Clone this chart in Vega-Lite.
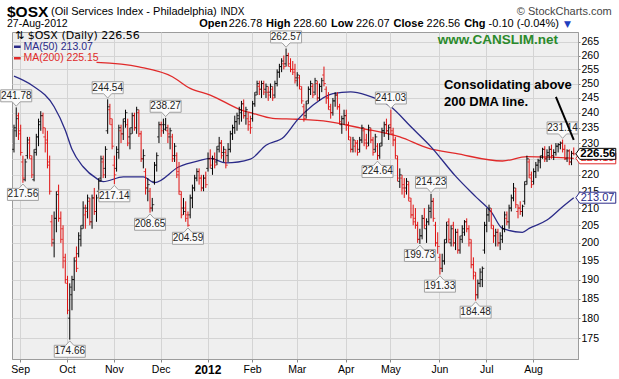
{
"$schema": "https://vega.github.io/schema/vega-lite/v6.json",
"width": 566, "height": 327,
"autosize": {"type": "none"},
"padding": {"left": 12, "top": 32, "right": 41, "bottom": 20},
"background": "#ffffff",
"config": {"view": {"fill": "#efefef", "stroke": "#9c9c9c", "strokeWidth": 1}, "font": "Liberation Sans", "text": {"font": "Liberation Sans", "baseline": "middle"}},
"datasets": {
"px": [
{"d":"2011-08-29","o":228,"h":236,"l":227,"c":235},
{"d":"2011-08-30","o":234,"h":241.78,"l":232,"c":238},
{"d":"2011-08-31","o":239,"h":240,"l":231,"c":233},
{"d":"2011-09-01","o":234,"h":236,"l":226,"c":227},
{"d":"2011-09-02","o":224,"h":226,"l":217.56,"c":219},
{"d":"2011-09-06","o":218.5,"h":225,"l":218,"c":224},
{"d":"2011-09-07","o":226,"h":232,"l":225,"c":231},
{"d":"2011-09-08","o":230,"h":232,"l":225,"c":226},
{"d":"2011-09-09","o":225,"h":226,"l":219,"c":220},
{"d":"2011-09-12","o":218.5,"h":228,"l":218,"c":227},
{"d":"2011-09-13","o":228,"h":233,"l":226,"c":232},
{"d":"2011-09-14","o":232,"h":238,"l":229,"c":236},
{"d":"2011-09-15","o":237,"h":240.5,"l":234,"c":239},
{"d":"2011-09-16","o":239,"h":240,"l":233,"c":235},
{"d":"2011-09-19","o":232,"h":235,"l":227,"c":230},
{"d":"2011-09-20","o":231,"h":234,"l":222,"c":223},
{"d":"2011-09-21","o":224,"h":226,"l":214,"c":215},
{"d":"2011-09-22","o":206,"h":208,"l":199,"c":201},
{"d":"2011-09-23","o":200,"h":209,"l":196,"c":207},
{"d":"2011-09-26","o":207,"h":215,"l":203,"c":214},
{"d":"2011-09-27","o":215,"h":217,"l":206,"c":207},
{"d":"2011-09-28","o":207,"h":209,"l":200,"c":201},
{"d":"2011-09-29","o":204,"h":205,"l":193,"c":196},
{"d":"2011-09-30","o":195,"h":197,"l":189,"c":190},
{"d":"2011-10-03","o":189,"h":191,"l":181,"c":182},
{"d":"2011-10-04","o":180,"h":189,"l":174.66,"c":188},
{"d":"2011-10-05","o":186,"h":191,"l":182,"c":190},
{"d":"2011-10-06","o":190,"h":196,"l":187,"c":195},
{"d":"2011-10-07","o":196,"h":199,"l":192,"c":193},
{"d":"2011-10-10","o":197,"h":203,"l":196,"c":202},
{"d":"2011-10-11","o":201,"h":205,"l":199,"c":204},
{"d":"2011-10-12","o":205,"h":212,"l":204,"c":210},
{"d":"2011-10-13","o":208,"h":211,"l":204,"c":209},
{"d":"2011-10-14","o":210,"h":214,"l":207,"c":213},
{"d":"2011-10-17","o":212,"h":213,"l":205,"c":206},
{"d":"2011-10-18","o":206,"h":214,"l":204,"c":213},
{"d":"2011-10-19","o":213,"h":216,"l":208,"c":209},
{"d":"2011-10-20","o":209,"h":214,"l":206,"c":213},
{"d":"2011-10-21","o":215,"h":219,"l":213,"c":218},
{"d":"2011-10-24","o":219,"h":226,"l":218,"c":225},
{"d":"2011-10-25","o":224,"h":226,"l":219,"c":220},
{"d":"2011-10-26","o":222,"h":229,"l":219,"c":228},
{"d":"2011-10-27","o":234,"h":244.54,"l":233,"c":242},
{"d":"2011-10-28","o":241,"h":243,"l":236,"c":238},
{"d":"2011-10-31","o":236,"h":238,"l":228,"c":229},
{"d":"2011-11-01","o":223,"h":226,"l":217.14,"c":220},
{"d":"2011-11-02","o":222,"h":229,"l":221,"c":227},
{"d":"2011-11-03","o":228,"h":236,"l":225,"c":235},
{"d":"2011-11-04","o":234,"h":236,"l":230,"c":233},
{"d":"2011-11-07","o":233,"h":238,"l":231,"c":237},
{"d":"2011-11-08","o":238,"h":241,"l":235,"c":240},
{"d":"2011-11-09","o":236,"h":238,"l":229,"c":230},
{"d":"2011-11-10","o":232,"h":235,"l":228,"c":233},
{"d":"2011-11-11","o":235,"h":240,"l":233,"c":239},
{"d":"2011-11-14","o":239,"h":240,"l":234,"c":235},
{"d":"2011-11-15","o":235,"h":242,"l":233,"c":241},
{"d":"2011-11-16","o":240,"h":241,"l":232,"c":233},
{"d":"2011-11-17","o":233,"h":234,"l":224,"c":225},
{"d":"2011-11-18","o":225,"h":228,"l":222,"c":226},
{"d":"2011-11-21","o":221,"h":222,"l":214,"c":216},
{"d":"2011-11-22","o":216,"h":219,"l":212,"c":217},
{"d":"2011-11-23","o":215,"h":216,"l":208.65,"c":210},
{"d":"2011-11-25","o":210,"h":213,"l":209,"c":211},
{"d":"2011-11-28","o":218,"h":224,"l":217,"c":223},
{"d":"2011-11-29","o":223,"h":227,"l":221,"c":226},
{"d":"2011-11-30","o":232,"h":237,"l":230,"c":236},
{"d":"2011-12-01","o":236,"h":237,"l":232,"c":234},
{"d":"2011-12-02","o":236,"h":238,"l":233,"c":234.5},
{"d":"2011-12-05","o":236,"h":238.27,"l":234,"c":235},
{"d":"2011-12-06","o":234,"h":236,"l":230,"c":233},
{"d":"2011-12-07","o":232,"h":235,"l":228,"c":234},
{"d":"2011-12-08","o":232,"h":233,"l":224,"c":225},
{"d":"2011-12-09","o":226,"h":230,"l":224,"c":229},
{"d":"2011-12-12","o":226,"h":227,"l":219,"c":220},
{"d":"2011-12-13","o":221,"h":224,"l":214,"c":215},
{"d":"2011-12-14","o":214,"h":215,"l":207,"c":208},
{"d":"2011-12-15","o":210,"h":213,"l":208,"c":209},
{"d":"2011-12-16","o":210,"h":212,"l":206,"c":207},
{"d":"2011-12-19","o":208,"h":209,"l":204.59,"c":205},
{"d":"2011-12-20","o":208,"h":214,"l":207,"c":213},
{"d":"2011-12-21","o":213,"h":217,"l":210,"c":216},
{"d":"2011-12-22","o":216,"h":220,"l":215,"c":219},
{"d":"2011-12-23","o":219,"h":222,"l":218,"c":221},
{"d":"2011-12-27","o":221,"h":222,"l":217,"c":219},
{"d":"2011-12-28","o":219,"h":220,"l":215,"c":216},
{"d":"2011-12-29","o":216,"h":220,"l":215,"c":219},
{"d":"2011-12-30","o":219,"h":221,"l":216,"c":217},
{"d":"2012-01-03","o":222,"h":227,"l":221,"c":225},
{"d":"2012-01-04","o":225,"h":228,"l":222,"c":223},
{"d":"2012-01-05","o":222,"h":226,"l":220,"c":225},
{"d":"2012-01-06","o":225,"h":227,"l":222,"c":223},
{"d":"2012-01-09","o":224,"h":229,"l":223,"c":228},
{"d":"2012-01-10","o":229,"h":232,"l":227,"c":230},
{"d":"2012-01-11","o":230,"h":231,"l":225,"c":226},
{"d":"2012-01-12","o":227,"h":229,"l":224,"c":228},
{"d":"2012-01-13","o":227,"h":228,"l":222,"c":223},
{"d":"2012-01-17","o":226,"h":230,"l":224,"c":228},
{"d":"2012-01-18","o":228,"h":234,"l":227,"c":233},
{"d":"2012-01-19","o":233,"h":236,"l":231,"c":235},
{"d":"2012-01-20","o":235,"h":239,"l":233,"c":237},
{"d":"2012-01-23","o":237,"h":240,"l":234,"c":239},
{"d":"2012-01-24","o":238,"h":242,"l":236,"c":241},
{"d":"2012-01-25","o":240,"h":244,"l":237,"c":243},
{"d":"2012-01-26","o":243,"h":244.5,"l":238,"c":239},
{"d":"2012-01-27","o":239,"h":242,"l":236,"c":241},
{"d":"2012-01-30","o":238,"h":240,"l":234,"c":236},
{"d":"2012-01-31","o":237,"h":239,"l":233,"c":235},
{"d":"2012-02-01","o":238,"h":244,"l":237,"c":243},
{"d":"2012-02-02","o":243,"h":247,"l":242,"c":246},
{"d":"2012-02-03","o":247,"h":251,"l":246,"c":250},
{"d":"2012-02-06","o":249,"h":251,"l":246,"c":248},
{"d":"2012-02-07","o":248,"h":251,"l":245,"c":250},
{"d":"2012-02-08","o":250,"h":251,"l":246,"c":247},
{"d":"2012-02-09","o":248,"h":250,"l":245,"c":249},
{"d":"2012-02-10","o":247,"h":249,"l":244,"c":246},
{"d":"2012-02-13","o":247,"h":250,"l":245,"c":249},
{"d":"2012-02-14","o":248,"h":249,"l":244,"c":245},
{"d":"2012-02-15","o":246,"h":251,"l":245,"c":250},
{"d":"2012-02-16","o":250,"h":255,"l":249,"c":254},
{"d":"2012-02-17","o":254,"h":257,"l":252,"c":256},
{"d":"2012-02-21","o":256,"h":259,"l":254,"c":258},
{"d":"2012-02-22","o":257,"h":260,"l":255,"c":256},
{"d":"2012-02-23","o":257,"h":262.57,"l":256,"c":260},
{"d":"2012-02-24","o":260,"h":261,"l":256,"c":257},
{"d":"2012-02-27","o":256,"h":259,"l":254,"c":255},
{"d":"2012-02-28","o":255,"h":258,"l":253,"c":254},
{"d":"2012-02-29","o":255,"h":257,"l":250,"c":251},
{"d":"2012-03-01","o":252,"h":254,"l":249,"c":253},
{"d":"2012-03-02","o":252,"h":253,"l":248,"c":249},
{"d":"2012-03-05","o":248,"h":249,"l":243,"c":244},
{"d":"2012-03-06","o":242,"h":243,"l":237,"c":238},
{"d":"2012-03-07","o":239,"h":244,"l":238,"c":243},
{"d":"2012-03-08","o":244,"h":249,"l":243,"c":248},
{"d":"2012-03-09","o":248,"h":251,"l":246,"c":250},
{"d":"2012-03-12","o":249,"h":250,"l":245,"c":246},
{"d":"2012-03-13","o":247,"h":252,"l":246,"c":251},
{"d":"2012-03-14","o":250,"h":251,"l":244,"c":245},
{"d":"2012-03-15","o":245,"h":250,"l":244,"c":249},
{"d":"2012-03-16","o":249,"h":252,"l":247,"c":251},
{"d":"2012-03-19","o":253,"h":256,"l":249,"c":250},
{"d":"2012-03-20","o":248,"h":249,"l":243,"c":245},
{"d":"2012-03-21","o":245,"h":247,"l":241,"c":242},
{"d":"2012-03-22","o":241,"h":243,"l":238,"c":240},
{"d":"2012-03-23","o":240,"h":245,"l":239,"c":244},
{"d":"2012-03-26","o":244,"h":247,"l":242,"c":246},
{"d":"2012-03-27","o":246,"h":247,"l":241,"c":242},
{"d":"2012-03-28","o":242,"h":243,"l":236,"c":237},
{"d":"2012-03-29","o":236,"h":239,"l":233,"c":238},
{"d":"2012-03-30","o":238,"h":241,"l":236,"c":239},
{"d":"2012-04-02","o":239,"h":241,"l":234,"c":236},
{"d":"2012-04-03","o":236,"h":237,"l":231,"c":232},
{"d":"2012-04-04","o":231,"h":232,"l":227,"c":228},
{"d":"2012-04-05","o":228,"h":232,"l":227,"c":231},
{"d":"2012-04-09","o":229,"h":231,"l":227,"c":230},
{"d":"2012-04-10","o":230,"h":231,"l":226,"c":227},
{"d":"2012-04-11","o":228,"h":232,"l":227,"c":231},
{"d":"2012-04-12","o":231,"h":236,"l":230,"c":235},
{"d":"2012-04-13","o":234,"h":235,"l":229,"c":230},
{"d":"2012-04-16","o":231,"h":233,"l":228,"c":229},
{"d":"2012-04-17","o":230,"h":236,"l":229,"c":235},
{"d":"2012-04-18","o":234,"h":235,"l":230,"c":231},
{"d":"2012-04-19","o":231,"h":232,"l":226,"c":227},
{"d":"2012-04-20","o":228,"h":233,"l":227,"c":232},
{"d":"2012-04-23","o":229,"h":230,"l":224.64,"c":226},
{"d":"2012-04-24","o":226,"h":230,"l":225,"c":229},
{"d":"2012-04-25","o":230,"h":235,"l":229,"c":234},
{"d":"2012-04-26","o":234,"h":237,"l":232,"c":236},
{"d":"2012-04-27","o":236,"h":238,"l":233,"c":234},
{"d":"2012-04-30","o":234,"h":236,"l":231,"c":235},
{"d":"2012-05-01","o":236,"h":241.03,"l":233,"c":234},
{"d":"2012-05-02","o":233,"h":235,"l":229,"c":231},
{"d":"2012-05-03","o":231,"h":232,"l":225,"c":226},
{"d":"2012-05-04","o":225,"h":226,"l":218,"c":219},
{"d":"2012-05-07","o":218,"h":222,"l":216,"c":220},
{"d":"2012-05-08","o":219,"h":220,"l":214,"c":217},
{"d":"2012-05-09","o":216,"h":219,"l":213,"c":215},
{"d":"2012-05-10","o":216,"h":219,"l":214,"c":218},
{"d":"2012-05-11","o":217,"h":218,"l":212,"c":213},
{"d":"2012-05-14","o":212,"h":213,"l":207,"c":208},
{"d":"2012-05-15","o":208,"h":211,"l":205,"c":206},
{"d":"2012-05-16","o":207,"h":210,"l":204,"c":205},
{"d":"2012-05-17","o":205,"h":206,"l":200,"c":201},
{"d":"2012-05-18","o":201,"h":204,"l":199.73,"c":202},
{"d":"2012-05-21","o":202,"h":208,"l":201,"c":207},
{"d":"2012-05-22","o":207,"h":210,"l":204,"c":205},
{"d":"2012-05-23","o":204,"h":207,"l":200,"c":206},
{"d":"2012-05-24","o":206,"h":211,"l":205,"c":210},
{"d":"2012-05-25","o":209,"h":214.23,"l":207,"c":212},
{"d":"2012-05-29","o":212,"h":213,"l":206,"c":207},
{"d":"2012-05-30","o":205,"h":206,"l":199,"c":200},
{"d":"2012-05-31","o":200,"h":203,"l":197,"c":199},
{"d":"2012-06-01","o":196,"h":197,"l":191.33,"c":193},
{"d":"2012-06-04","o":193,"h":197,"l":192,"c":195},
{"d":"2012-06-05","o":195,"h":201,"l":194,"c":200},
{"d":"2012-06-06","o":201,"h":206,"l":200,"c":205},
{"d":"2012-06-07","o":206,"h":207,"l":200,"c":201},
{"d":"2012-06-08","o":200,"h":205,"l":199,"c":204},
{"d":"2012-06-11","o":205,"h":206,"l":199,"c":200},
{"d":"2012-06-12","o":200,"h":204,"l":198,"c":203},
{"d":"2012-06-13","o":203,"h":204,"l":197,"c":198},
{"d":"2012-06-14","o":198,"h":202,"l":197,"c":201},
{"d":"2012-06-15","o":202,"h":205,"l":200,"c":204},
{"d":"2012-06-18","o":203,"h":206.5,"l":202,"c":206},
{"d":"2012-06-19","o":206,"h":207,"l":203,"c":204},
{"d":"2012-06-20","o":204,"h":205,"l":199,"c":201},
{"d":"2012-06-21","o":200,"h":201,"l":193,"c":194},
{"d":"2012-06-22","o":194,"h":196,"l":190,"c":192},
{"d":"2012-06-25","o":191,"h":192,"l":184.48,"c":186},
{"d":"2012-06-26","o":186,"h":190,"l":185,"c":189},
{"d":"2012-06-27","o":189,"h":193,"l":188,"c":192},
{"d":"2012-06-28","o":190,"h":193.5,"l":188,"c":193},
{"d":"2012-06-29","o":198,"h":206,"l":197,"c":205},
{"d":"2012-07-02","o":205,"h":210,"l":203,"c":208},
{"d":"2012-07-03","o":208,"h":211,"l":206,"c":210},
{"d":"2012-07-05","o":209,"h":210,"l":204,"c":205},
{"d":"2012-07-06","o":204,"h":205,"l":200,"c":202},
{"d":"2012-07-09","o":202,"h":204,"l":199,"c":203},
{"d":"2012-07-10","o":203,"h":204,"l":199,"c":200},
{"d":"2012-07-11","o":200,"h":203,"l":198,"c":202},
{"d":"2012-07-12","o":201,"h":205,"l":200,"c":204},
{"d":"2012-07-13","o":204,"h":209,"l":203,"c":208},
{"d":"2012-07-16","o":207,"h":209,"l":205,"c":206},
{"d":"2012-07-17","o":206,"h":211,"l":204,"c":210},
{"d":"2012-07-18","o":210,"h":214,"l":209,"c":213},
{"d":"2012-07-19","o":213,"h":217.5,"l":212,"c":216},
{"d":"2012-07-20","o":215,"h":216,"l":210,"c":211},
{"d":"2012-07-23","o":209,"h":211,"l":207,"c":210},
{"d":"2012-07-24","o":210,"h":212,"l":208,"c":209},
{"d":"2012-07-25","o":209,"h":211,"l":207.5,"c":210.5},
{"d":"2012-07-26","o":212,"h":218,"l":211,"c":217},
{"d":"2012-07-27","o":218,"h":226,"l":217,"c":225},
{"d":"2012-07-30","o":224,"h":225,"l":219,"c":220},
{"d":"2012-07-31","o":219,"h":221,"l":216,"c":217},
{"d":"2012-08-01","o":218,"h":222,"l":217,"c":221},
{"d":"2012-08-02","o":221,"h":224,"l":219,"c":223},
{"d":"2012-08-03","o":223,"h":225,"l":221,"c":224.5},
{"d":"2012-08-06","o":224,"h":226,"l":222,"c":225.5},
{"d":"2012-08-07","o":226,"h":228.5,"l":225,"c":228},
{"d":"2012-08-08","o":228,"h":229,"l":224,"c":225},
{"d":"2012-08-09","o":225,"h":228,"l":224,"c":227},
{"d":"2012-08-10","o":226,"h":229,"l":224.6,"c":228},
{"d":"2012-08-13","o":228,"h":229.5,"l":225,"c":226},
{"d":"2012-08-14","o":226,"h":228,"l":224.6,"c":227},
{"d":"2012-08-15","o":227,"h":230,"l":226,"c":229},
{"d":"2012-08-16","o":229,"h":230,"l":227,"c":229.5},
{"d":"2012-08-17","o":229.5,"h":230.5,"l":228,"c":230},
{"d":"2012-08-20","o":230,"h":231.14,"l":227,"c":228},
{"d":"2012-08-21","o":228,"h":229.5,"l":224.6,"c":225},
{"d":"2012-08-22","o":225,"h":228,"l":224,"c":227.5},
{"d":"2012-08-23","o":227.5,"h":228,"l":223,"c":224},
{"d":"2012-08-24","o":224,"h":227.5,"l":223,"c":226.66},
{"d":"2012-08-27","o":226.78,"h":228.6,"l":226.07,"c":226.56}
],
"ma50": [
{"d":"2011-08-29","v":252.6},{"d":"2011-09-09","v":249.4},{"d":"2011-09-23","v":242.0},{"d":"2011-09-30","v":234.2},
{"d":"2011-10-05","v":228.0},{"d":"2011-10-12","v":222.5},{"d":"2011-10-20","v":218.9},{"d":"2011-10-25","v":217.9},
{"d":"2011-11-07","v":219.4},{"d":"2011-11-18","v":219.4},{"d":"2011-11-28","v":217.6},{"d":"2011-12-13","v":222.5},
{"d":"2011-12-27","v":224.4},{"d":"2012-01-04","v":225.1},{"d":"2012-01-13","v":223.7},{"d":"2012-01-31","v":224.9},
{"d":"2012-02-09","v":229.3},{"d":"2012-02-22","v":232.0},{"d":"2012-03-01","v":237.5},{"d":"2012-03-12","v":242.5},
{"d":"2012-03-23","v":246.5},{"d":"2012-04-04","v":247.1},{"d":"2012-04-16","v":246.0},{"d":"2012-05-01","v":242.0},
{"d":"2012-05-14","v":235.3},{"d":"2012-05-25","v":228.8},{"d":"2012-06-12","v":219.6},{"d":"2012-06-25","v":213.4},
{"d":"2012-07-05","v":208.9},{"d":"2012-07-12","v":204.1},{"d":"2012-07-25","v":203.0},{"d":"2012-07-30","v":204.1},
{"d":"2012-08-09","v":206.5},{"d":"2012-08-20","v":210.4},{"d":"2012-08-27","v":213.07}
],
"ma200": [
{"d":"2011-10-20","v":257.5},{"d":"2011-11-16","v":255.9},{"d":"2011-12-08","v":252.4},{"d":"2011-12-20","v":248.3},
{"d":"2012-01-04","v":246.0},{"d":"2012-01-25","v":240.9},{"d":"2012-02-01","v":239.8},{"d":"2012-02-14","v":238.1},
{"d":"2012-03-01","v":237.8},{"d":"2012-03-21","v":237.0},{"d":"2012-04-12","v":234.8},{"d":"2012-05-07","v":232.0},
{"d":"2012-05-24","v":228.3},{"d":"2012-06-12","v":226.7},{"d":"2012-07-12","v":224.3},{"d":"2012-07-27","v":225.7},
{"d":"2012-08-13","v":225.5},{"d":"2012-08-27","v":225.15}
],
"lbl": [
{"d":"2011-08-30","v":241.78,"t":"241.78","k":"hi"},
{"d":"2011-10-27","v":244.54,"t":"244.54","k":"hi"},
{"d":"2011-12-05","v":238.27,"t":"238.27","k":"hi"},
{"d":"2012-02-23","v":262.57,"t":"262.57","k":"hi"},
{"d":"2012-05-01","v":241.03,"t":"241.03","k":"hi"},
{"d":"2012-05-25","v":214.23,"t":"214.23","k":"hi"},
{"d":"2012-08-20","v":231.14,"t":"231.14","k":"hi"},
{"d":"2011-09-02","v":217.56,"t":"217.56","k":"lo"},
{"d":"2011-10-04","v":174.66,"t":"174.66","k":"lo"},
{"d":"2011-11-01","v":217.14,"t":"217.14","k":"lo"},
{"d":"2011-11-23","v":208.65,"t":"208.65","k":"lo"},
{"d":"2011-12-19","v":204.59,"t":"204.59","k":"lo"},
{"d":"2012-04-23","v":224.64,"t":"224.64","k":"lo"},
{"d":"2012-05-18","v":199.73,"t":"199.73","k":"lo"},
{"d":"2012-06-01","v":191.33,"t":"191.33","k":"lo"},
{"d":"2012-06-25","v":184.48,"t":"184.48","k":"lo"}
]
},
"layer": [
{"data": {"name": "ma200"},
 "mark": {"type": "line", "color": "#e02a2a", "strokeWidth": 1.3, "interpolate": "monotone"},
 "encoding": {
  "x": {"field": "d", "type": "ordinal", "title": null,
   "scale": {"type": "band", "paddingInner": 0, "paddingOuter": 0.9, "align": 0.22},
   "axis": {"title": null, "orient": "bottom", "bandPosition": 0.5, "labelAngle": 0,
    "values": ["2011-09-01","2011-10-03","2011-11-01","2011-12-01","2012-01-03","2012-02-01","2012-03-01","2012-04-02","2012-05-01","2012-06-01","2012-07-02","2012-08-01"],
    "labelExpr": "datum.value == '2012-01-03' ? '2012' : timeFormat(toDate(datum.value + 'T12:00:00'), '%b')",
    "labelFontWeight": {"condition": {"test": "datum.value == '2012-01-03'", "value": "bold"}, "value": "normal"},
    "labelFontSize": {"condition": {"test": "datum.value == '2012-01-03'", "value": 12}, "value": 10.5},
    "labelColor": "#000000", "labelFont": "Liberation Sans", "labelPadding": 2, "labelBaseline": "top",
    "tickSize": 3, "tickColor": "#888888", "domainColor": "#9c9c9c",
    "grid": true, "gridColor": "#d4d4d4", "gridWidth": 1}},
  "y": {"field": "v", "type": "quantitative", "title": null,
   "scale": {"type": "log", "domain": [170, 268.7], "nice": false, "zero": false},
   "axis": {"title": null, "orient": "right", "values": [175,180,185,190,195,200,205,210,215,220,225,230,235,240,245,250,255,260,265],
    "format": "d", "labelExpr": "datum.value == 225 ? '' : datum.label",
    "labelColor": "#000000", "labelFont": "Liberation Sans", "labelFontSize": 10.5, "labelPadding": 1,
    "tickSize": 2, "tickColor": "#888888", "domainColor": "#9c9c9c",
    "grid": true, "gridColor": "#d4d4d4", "gridWidth": 1}}
 }},
{"data": {"name": "ma50"},
 "mark": {"type": "line", "color": "#2a2a88", "strokeWidth": 1.3, "interpolate": "monotone"},
 "encoding": {"x": {"field": "d", "type": "ordinal", "title": null}, "y": {"field": "v", "type": "quantitative", "title": null}}},
{"data": {"name": "px"},
 "transform": [{"window": [{"op": "lag", "field": "c", "as": "pc"}], "sort": [{"field": "d", "order": "ascending"}]}],
 "encoding": {
  "x": {"field": "d", "type": "ordinal", "title": null},
  "color": {"condition": {"test": "datum.pc != null && datum.c < datum.pc", "value": "#e01010"}, "value": "#000000"}
 },
 "layer": [
  {"mark": {"type": "rule", "strokeWidth": 1}, "encoding": {"y": {"field": "l", "type": "quantitative", "title": null}, "y2": {"field": "h"}}},
  {"mark": {"type": "tick", "orient": "horizontal", "size": 2, "thickness": 1, "xOffset": -1}, "encoding": {"y": {"field": "o", "type": "quantitative", "title": null}}},
  {"mark": {"type": "tick", "orient": "horizontal", "size": 2, "thickness": 1, "xOffset": 1}, "encoding": {"y": {"field": "c", "type": "quantitative", "title": null}}}
 ]},
{"data": {"name": "lbl"},
 "encoding": {"x": {"field": "d", "type": "ordinal", "title": null}, "y": {"field": "v", "type": "quantitative", "title": null}},
 "layer": [
  {"transform": [{"filter": "datum.k == 'hi'"}], "mark": {"type": "point", "shape": "M-0.775,-0.88H0.775V-0.28H0.2L0,-0.06L-0.2,-0.28H-0.775Z", "size": 1600, "filled": true, "fill": "#fafafa", "stroke": "#a0a0a0", "strokeWidth": 1, "opacity": 1}},
  {"transform": [{"filter": "datum.k == 'lo'"}], "mark": {"type": "point", "shape": "M-0.775,0.88H0.775V0.28H0.2L0,0.06L-0.2,0.28H-0.775Z", "size": 1600, "filled": true, "fill": "#fafafa", "stroke": "#a0a0a0", "strokeWidth": 1, "opacity": 1}},
  {"transform": [{"filter": "datum.k == 'hi'"}], "mark": {"type": "text", "dy": -11.5, "fontSize": 10, "color": "#222222", "align": "center", "baseline": "middle"}, "encoding": {"text": {"field": "t"}}},
  {"transform": [{"filter": "datum.k == 'lo'"}], "mark": {"type": "text", "dy": 11.5, "fontSize": 10, "color": "#222222", "align": "center", "baseline": "middle"}, "encoding": {"text": {"field": "t"}}}
 ]},
{"data": {"values": [{}]},
 "mark": {"type": "rule", "color": "#000000", "strokeWidth": 2},
 "encoding": {"x": {"datum": "2012-08-15", "type": "ordinal"}, "x2": {"datum": "2012-08-27"}, "y": {"datum": 245.4, "type": "quantitative"}, "y2": {"datum": 231.0}}},
{"data": {"values": [{}]},
 "mark": {"type": "point", "shape": "M0.105,0L0.3,-0.275H2.1V0.275H0.3Z", "size": 1600, "filled": true, "fill": "#ffffff", "stroke": "#e02a2a", "strokeWidth": 1, "opacity": 1},
 "encoding": {"x": {"datum": "2012-08-27", "type": "ordinal"}, "y": {"datum": 225.15, "type": "quantitative"}}},
{"data": {"values": [{}]},
 "mark": {"type": "text", "align": "left", "dx": 7, "fontSize": 11, "color": "#e02a2a"},
 "encoding": {"x": {"datum": "2012-08-27", "type": "ordinal"}, "y": {"datum": 225.15, "type": "quantitative"}, "text": {"value": "225.15"}}},
{"data": {"values": [{}]},
 "mark": {"type": "point", "shape": "M0.105,0L0.3,-0.275H2.1V0.275H0.3Z", "size": 1600, "filled": true, "fill": "#ffffff", "stroke": "#000000", "strokeWidth": 1, "opacity": 1},
 "encoding": {"x": {"datum": "2012-08-27", "type": "ordinal"}, "y": {"datum": 226.56, "type": "quantitative"}}},
{"data": {"values": [{}]},
 "mark": {"type": "text", "align": "left", "dx": 6.5, "fontSize": 11.5, "fontWeight": "bold", "color": "#000000"},
 "encoding": {"x": {"datum": "2012-08-27", "type": "ordinal"}, "y": {"datum": 226.56, "type": "quantitative"}, "text": {"value": "226.56"}}},
{"data": {"values": [{}]},
 "mark": {"type": "point", "shape": "M0.105,0L0.3,-0.275H2.1V0.275H0.3Z", "size": 1600, "filled": true, "fill": "#ffffff", "stroke": "#2a2a88", "strokeWidth": 1, "opacity": 1},
 "encoding": {"x": {"datum": "2012-08-27", "type": "ordinal"}, "y": {"datum": 213.07, "type": "quantitative"}}},
{"data": {"values": [{}]},
 "mark": {"type": "text", "align": "left", "dx": 7, "fontSize": 11, "color": "#2a2a88"},
 "encoding": {"x": {"datum": "2012-08-27", "type": "ordinal"}, "y": {"datum": 213.07, "type": "quantitative"}, "text": {"value": "213.07"}}},
{"data": {"values": [{}]},
 "mark": {"type": "text", "align": "center", "fontSize": 13.5, "fontWeight": "bold", "color": "#2b8a2b"},
 "encoding": {"x": {"datum": "2012-07-10", "type": "ordinal"}, "y": {"datum": 265.7, "type": "quantitative"}, "text": {"value": "www.CANSLIM.net"}}},
{"data": {"values": [{}]},
 "mark": {"type": "text", "align": "left", "dx": 1.8, "fontSize": 13, "fontWeight": "bold", "color": "#000000"},
 "encoding": {"x": {"datum": "2012-06-04", "type": "ordinal"}, "y": {"datum": 249.5, "type": "quantitative"}, "text": {"value": "Consolidating above"}}},
{"data": {"values": [{}]},
 "mark": {"type": "text", "align": "left", "dx": 1.8, "fontSize": 13, "fontWeight": "bold", "color": "#000000"},
 "encoding": {"x": {"datum": "2012-06-04", "type": "ordinal"}, "y": {"datum": 243.7, "type": "quantitative"}, "text": {"value": "200 DMA line."}}},
{"data": {"values": [{}]},
 "mark": {"type": "text", "align": "left", "dx": 1, "fontSize": 11, "font": "DejaVu Sans", "color": "#000000"},
 "encoding": {"x": {"datum": "2011-08-29", "type": "ordinal"}, "y": {"datum": 267.2, "type": "quantitative"}, "text": {"value": "⇅ $OSX (Daily) 226.56"}}},
{"data": {"values": [{}]},
 "mark": {"type": "rule", "color": "#2a2a88", "strokeWidth": 2.5},
 "encoding": {"x": {"datum": "2011-08-29", "type": "ordinal"}, "x2": {"datum": "2011-09-01"}, "y": {"datum": 263.2, "type": "quantitative"}}},
{"data": {"values": [{}]},
 "mark": {"type": "text", "align": "left", "dx": 0.5, "fontSize": 10.5, "color": "#2a2a88"},
 "encoding": {"x": {"datum": "2011-09-02", "type": "ordinal"}, "y": {"datum": 263.2, "type": "quantitative"}, "text": {"value": "MA(50) 213.07"}}},
{"data": {"values": [{}]},
 "mark": {"type": "rule", "color": "#e02a2a", "strokeWidth": 2.5},
 "encoding": {"x": {"datum": "2011-08-29", "type": "ordinal"}, "x2": {"datum": "2011-09-01"}, "y": {"datum": 259.0, "type": "quantitative"}}},
{"data": {"values": [{}]},
 "mark": {"type": "text", "align": "left", "dx": 0.5, "fontSize": 10.5, "color": "#e02a2a"},
 "encoding": {"x": {"datum": "2011-09-02", "type": "ordinal"}, "y": {"datum": 259.0, "type": "quantitative"}, "text": {"value": "MA(200) 225.15"}}},
{"data": {"values": [{}]},
 "mark": {"type": "text", "align": "left", "dx": -7, "fontSize": 15.5, "fontWeight": "bold", "color": "#000000"},
 "encoding": {"x": {"datum": "2011-08-29", "type": "ordinal"}, "y": {"datum": 276.5, "type": "quantitative"}, "text": {"value": "$OSX"}}},
{"data": {"values": [{}]},
 "mark": {"type": "text", "align": "left", "dx": 8, "fontSize": 11, "color": "#000000"},
 "encoding": {"x": {"datum": "2011-09-16", "type": "ordinal"}, "y": {"datum": 276.5, "type": "quantitative"}, "text": {"value": "(Oil Services Index - Philadelphia)"}}},
{"data": {"values": [{}]},
 "mark": {"type": "text", "align": "left", "dx": 3.5, "fontSize": 10, "color": "#000000"},
 "encoding": {"x": {"datum": "2012-01-09", "type": "ordinal"}, "y": {"datum": 276.5, "type": "quantitative"}, "text": {"value": "INDX"}}},
{"data": {"values": [{}]},
 "mark": {"type": "text", "align": "right", "dx": 38, "fontSize": 11, "color": "#444444"},
 "encoding": {"x": {"datum": "2012-08-27", "type": "ordinal"}, "y": {"datum": 276.5, "type": "quantitative"}, "text": {"value": "© StockCharts.com"}}},
{"data": {"values": [{}]},
 "mark": {"type": "text", "align": "left", "dx": -7, "fontSize": 10.5, "color": "#000000"},
 "encoding": {"x": {"datum": "2011-08-29", "type": "ordinal"}, "y": {"datum": 271.8, "type": "quantitative"}, "text": {"value": "27-Aug-2012"}}},
{"data": {"values": [{}]},
 "mark": {"type": "text", "align": "left", "dx": 0.2, "fontSize": 11, "fontWeight": "bold", "color": "#000000"},
 "encoding": {"x": {"datum": "2011-12-27", "type": "ordinal"}, "y": {"datum": 271.8, "type": "quantitative"}, "text": {"value": "Open"}}},
{"data": {"values": [{}]},
 "mark": {"type": "text", "align": "left", "dx": 0.6, "fontSize": 11, "color": "#000000"},
 "encoding": {"x": {"datum": "2012-01-17", "type": "ordinal"}, "y": {"datum": 271.8, "type": "quantitative"}, "text": {"value": "226.78"}}},
{"data": {"values": [{}]},
 "mark": {"type": "text", "align": "left", "dx": 0, "fontSize": 11, "fontWeight": "bold", "color": "#000000"},
 "encoding": {"x": {"datum": "2012-02-09", "type": "ordinal"}, "y": {"datum": 271.8, "type": "quantitative"}, "text": {"value": "High"}}},
{"data": {"values": [{}]},
 "mark": {"type": "text", "align": "left", "dx": 0.5, "fontSize": 11, "color": "#000000"},
 "encoding": {"x": {"datum": "2012-02-28", "type": "ordinal"}, "y": {"datum": 271.8, "type": "quantitative"}, "text": {"value": "228.60"}}},
{"data": {"values": [{}]},
 "mark": {"type": "text", "align": "left", "dx": 0.3, "fontSize": 11, "fontWeight": "bold", "color": "#000000"},
 "encoding": {"x": {"datum": "2012-03-22", "type": "ordinal"}, "y": {"datum": 271.8, "type": "quantitative"}, "text": {"value": "Low"}}},
{"data": {"values": [{}]},
 "mark": {"type": "text", "align": "left", "dx": 0.8, "fontSize": 11, "color": "#000000"},
 "encoding": {"x": {"datum": "2012-04-09", "type": "ordinal"}, "y": {"datum": 271.8, "type": "quantitative"}, "text": {"value": "226.07"}}},
{"data": {"values": [{}]},
 "mark": {"type": "text", "align": "left", "dx": 0.5, "fontSize": 11, "fontWeight": "bold", "color": "#000000"},
 "encoding": {"x": {"datum": "2012-05-02", "type": "ordinal"}, "y": {"datum": 271.8, "type": "quantitative"}, "text": {"value": "Close"}}},
{"data": {"values": [{}]},
 "mark": {"type": "text", "align": "left", "dx": 0, "fontSize": 11, "color": "#000000"},
 "encoding": {"x": {"datum": "2012-05-23", "type": "ordinal"}, "y": {"datum": 271.8, "type": "quantitative"}, "text": {"value": "226.56"}}},
{"data": {"values": [{}]},
 "mark": {"type": "text", "align": "left", "dx": -0.3, "fontSize": 11, "fontWeight": "bold", "color": "#000000"},
 "encoding": {"x": {"datum": "2012-06-18", "type": "ordinal"}, "y": {"datum": 271.8, "type": "quantitative"}, "text": {"value": "Chg"}}},
{"data": {"values": [{}]},
 "mark": {"type": "text", "align": "left", "dx": -0.4, "fontSize": 11, "color": "#000000"},
 "encoding": {"x": {"datum": "2012-07-03", "type": "ordinal"}, "y": {"datum": 271.8, "type": "quantitative"}, "text": {"value": "-0.10 (-0.04%)"}}},
{"data": {"values": [{}]},
 "mark": {"type": "text", "align": "left", "dx": -0.8, "fontSize": 9, "font": "DejaVu Sans", "color": "#1f3fbf"},
 "encoding": {"x": {"datum": "2012-08-21", "type": "ordinal"}, "y": {"datum": 271.8, "type": "quantitative"}, "text": {"value": "▼"}}}
]
}
